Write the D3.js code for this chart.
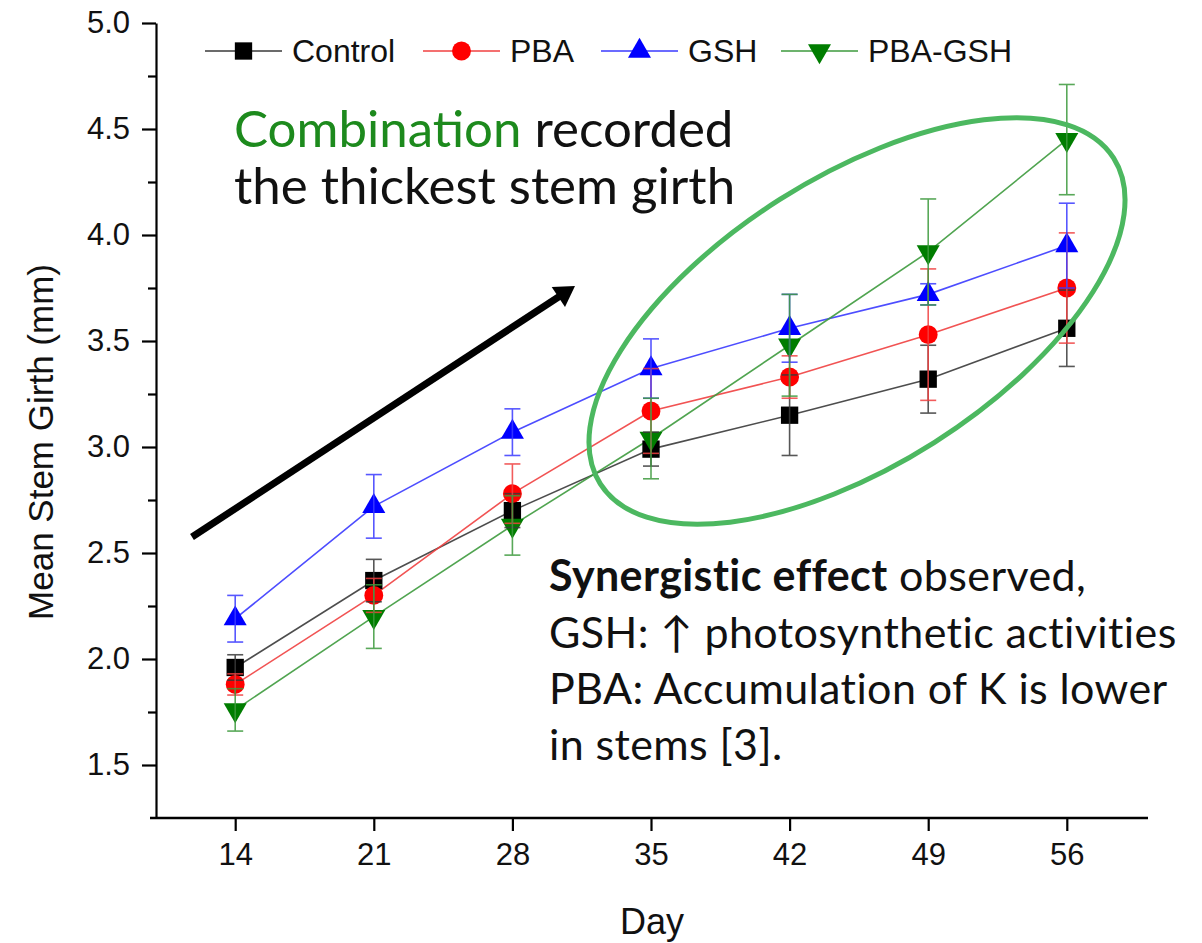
<!DOCTYPE html>
<html><head><meta charset="utf-8">
<script src="https://cdn.jsdelivr.net/npm/d3@7"></script>
<style>body{margin:0;background:#fff}svg{display:block}</style>
</head><body>
<script>
const days = [14, 21, 28, 35, 42, 49, 56];
const seriesNames = ["Control", "PBA", "GSH", "PBA-GSH"];
const controlVals = [1.96, 2.37, 2.70, 2.99, 3.15, 3.32, 3.56];
const controlErr  = [0.06, 0.10, 0.08, 0.08, 0.19, 0.16, 0.18];
const pbaVals     = [1.88, 2.30, 2.78, 3.17, 3.33, 3.53, 3.75];
const pbaErr      = [0.05, 0.08, 0.14, 0.20, 0.10, 0.31, 0.26];
const gshVals     = [2.19, 2.72, 3.07, 3.37, 3.56, 3.72, 3.95];
const gshErr      = [0.11, 0.15, 0.11, 0.14, 0.16, 0.05, 0.20];
const pbagshVals  = [1.76, 2.20, 2.63, 3.04, 3.48, 3.92, 4.45];
const pbagshErr   = [0.10, 0.15, 0.14, 0.19, 0.24, 0.25, 0.26];
const yTicks = [1.5, 2.0, 2.5, 3.0, 3.5, 4.0, 4.5, 5.0];
const yMinorTicks = [1.75, 2.25, 2.75, 3.25, 3.75, 4.25, 4.75];

const W = 1202, H = 943;
const svg = d3.select("body").append("svg").attr("width", W).attr("height", H);
const AX = "Liberation Sans, Arial, sans-serif";

const x = d3.scaleLinear().domain([10, 60]).range([156, 1146]);
const y = d3.scaleLinear().domain([1.25, 5]).range([818, 23]);

const series = [
  {name: seriesNames[0], vals: controlVals, err: controlErr, color: "#000000", line: "#3a3a3a", sym: "square"},
  {name: seriesNames[1], vals: pbaVals, err: pbaErr, color: "#ff0000", line: "#f04040", sym: "circle"},
  {name: seriesNames[2], vals: gshVals, err: gshErr, color: "#0000ff", line: "#3a3aff", sym: "up"},
  {name: seriesNames[3], vals: pbagshVals, err: pbagshErr, color: "#007d00", line: "#3d9a3d", sym: "down"}
];

function symbolPath(sym) {
  if (sym === "square") return d3.symbol(d3.symbolSquare, 300)();
  if (sym === "circle") return d3.symbol(d3.symbolCircle, 280)();
  return d3.symbol(d3.symbolTriangle, 230)();
}
function drawSymbol(g, s, cx, cy) {
  const p = g.append("path").attr("d", symbolPath(s.sym)).attr("fill", s.color);
  let t = `translate(${cx},${cy})`;
  if (s.sym === "down") t += " rotate(180)";
  p.attr("transform", t);
}

// axes
const yAxis = d3.axisLeft(y).tickValues(yTicks).tickFormat(d3.format(".1f")).tickSize(14).tickSizeOuter(0).tickPadding(12);
const gy = svg.append("g").attr("transform", `translate(${x(10)},0)`).call(yAxis);
gy.selectAll(".tick text").attr("font-family", AX).attr("font-size", 31).attr("fill", "#111");
gy.select(".domain").attr("stroke-width", 2.2);
gy.selectAll(".tick line").attr("stroke-width", 2.2);
const yMinor = d3.axisLeft(y).tickValues(yMinorTicks).tickSize(8).tickSizeOuter(0).tickFormat("");
const gym = svg.append("g").attr("transform", `translate(${x(10)},0)`).call(yMinor);
gym.select(".domain").remove();
gym.selectAll(".tick line").attr("stroke-width", 2.2);

const xAxis = d3.axisBottom(x).tickValues(days).tickFormat(d3.format("d")).tickSize(13).tickSizeOuter(0).tickPadding(12);
const gx = svg.append("g").attr("transform", `translate(0,${y(1.25)})`).call(xAxis);
gx.select(".domain").attr("d", `M${x(10)-6},0H${x(60)+2}`).attr("stroke-width", 2.5);
gx.selectAll(".tick line").attr("stroke-width", 2.2);
gx.selectAll(".tick text").attr("font-family", AX).attr("font-size", 31).attr("fill", "#111");

svg.append("text").attr("x", 652).attr("y", 934).attr("text-anchor", "middle")
  .attr("font-family", AX).attr("font-size", 36).attr("fill", "#111").text("Day");
svg.append("text").attr("transform", "translate(53,442) rotate(-90)").attr("text-anchor", "middle")
  .attr("font-family", AX).attr("font-size", 35).attr("fill", "#111").text("Mean Stem Girth (mm)");

// data
const line = d3.line().x((d, i) => x(days[i])).y(d => y(d));
series.forEach(s => {
  svg.append("path").attr("d", line(s.vals)).attr("fill", "none").attr("stroke", s.line).attr("stroke-width", 1.6).attr("opacity", 0.9);
});
series.forEach(s => {
  const g = svg.append("g");
  s.vals.forEach((v, i) => drawSymbol(g, s, x(days[i]), y(v)));
});
series.forEach(s => {
  const g = svg.append("g").attr("stroke", s.line).attr("stroke-width", 1.6).attr("opacity", 0.85);
  s.vals.forEach((v, i) => {
    const cx = x(days[i]), y1 = y(v + s.err[i]), y0 = y(v - s.err[i]);
    g.append("line").attr("x1", cx).attr("x2", cx).attr("y1", y1).attr("y2", y0);
    g.append("line").attr("x1", cx - 8).attr("x2", cx + 8).attr("y1", y1).attr("y2", y1);
    g.append("line").attr("x1", cx - 8).attr("x2", cx + 8).attr("y1", y0).attr("y2", y0);
  });
});

// legend
const legX = [205, 423, 601, 781];
series.forEach((s, i) => {
  const g = svg.append("g");
  g.append("line").attr("x1", legX[i]).attr("x2", legX[i] + 77).attr("y1", 51).attr("y2", 51).attr("stroke", s.line).attr("stroke-width", 1.6);
  drawSymbol(g, s, legX[i] + 38.5, 51);
  g.append("text").attr("x", legX[i] + 87).attr("y", 62).attr("font-family", AX)
    .attr("font-size", 32).attr("fill", "#111").text(s.name);
});

// annotations
const ann = "Lato, 'Open Sans', sans-serif";
const t1 = svg.append("text").attr("x", 234).attr("y", 147).attr("font-family", ann).attr("font-size", 51).attr("fill", "#111");
t1.append("tspan").attr("fill", "#1d8a1d").text("Combination");
t1.append("tspan").text(" recorded");
svg.append("text").attr("x", 234).attr("y", 204).attr("font-family", ann).attr("font-size", 51).attr("fill", "#111").text("the thickest stem girth");

const bl = [591, 648, 704, 760];
const bt = svg.append("g").attr("font-family", ann).attr("font-size", 43).attr("letter-spacing", 0.4).attr("fill", "#111");
const t2 = bt.append("text").attr("x", 549).attr("y", bl[0]);
t2.append("tspan").attr("font-weight", "bold").text("Synergistic effect");
t2.append("tspan").text(" observed,");
bt.append("text").attr("x", 549).attr("y", bl[1]).text("GSH: \u2191 photosynthetic activities");
bt.append("text").attr("x", 549).attr("y", bl[2]).text("PBA: Accumulation of K is lower");
bt.append("text").attr("x", 549).attr("y", bl[3]).text("in stems [3].");

// ellipse
svg.append("ellipse").attr("cx", 857).attr("cy", 321).attr("rx", 304).attr("ry", 144)
  .attr("transform", "rotate(-32.4,857,321)").attr("fill", "none").attr("stroke", "#4cb860").attr("stroke-width", 5);

// arrow
svg.append("line").attr("x1", 192).attr("y1", 537).attr("x2", 560).attr("y2", 296)
  .attr("stroke", "#000").attr("stroke-width", 7);
svg.append("path").attr("d", "M575,286L565,307L551.7,287Z").attr("fill", "#000");
</script>
</body></html>
